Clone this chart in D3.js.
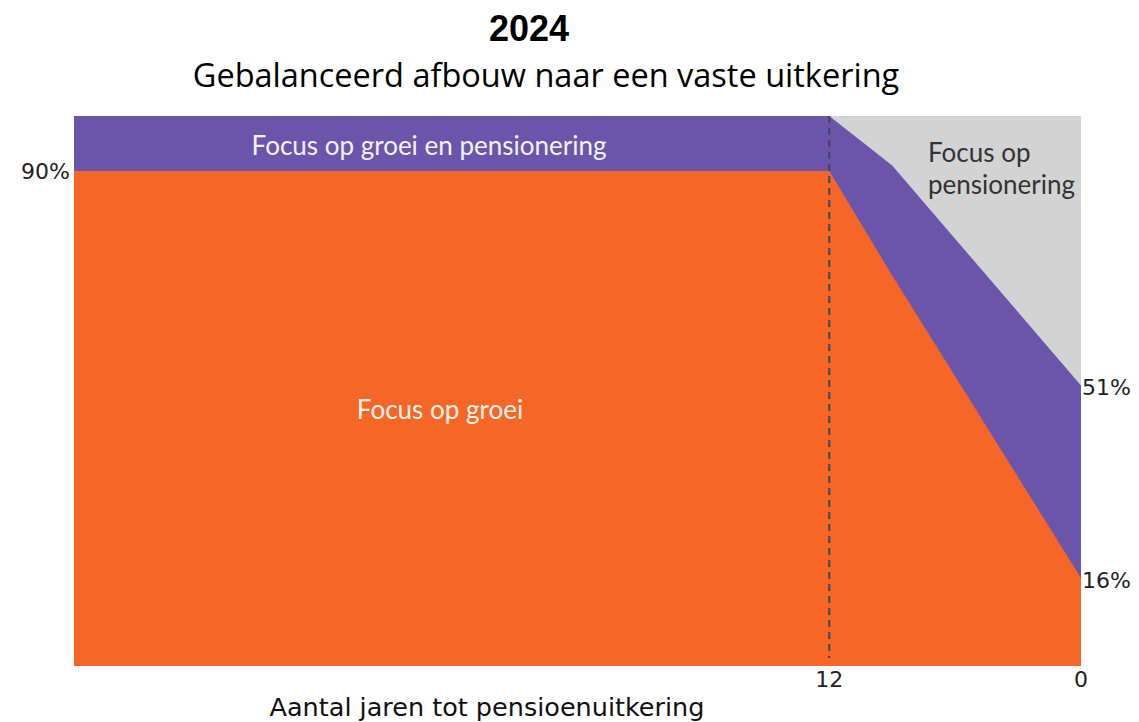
<!DOCTYPE html>
<html>
<head>
<meta charset="utf-8">
<script src="https://cdn.jsdelivr.net/npm/d3@7"></script>
<style>
    body { margin: 0; background: #fff; }
    svg { display: block; }
    .area-label { font-family: Lato, sans-serif; font-size: 26px; }
    .tick-label { font-family: "DejaVu Sans", sans-serif; font-size: 22px; fill: #222; }
</style>
</head>
<body>
<div id="chart"></div>
<script>

// data (years until retirement, share in %)
let years = [48, 12, 9, 0];
let growthShare = [90, 90, 71, 16];        // focus op groei
let mixedTop = [100, 100, 91, 51];         // focus op groei en pensionering (top edge)
let yTicks = [90];
let xTicks = [12, 0];
let rightLabels = [51, 16];

let width = 1139, height = 722;
let margin = {top: 116, right: 58, bottom: 56, left: 74};
let innerW = width - margin.left - margin.right;
let innerH = height - margin.top - margin.bottom;

let svg = d3.select('#chart').append('svg')
    .attr('width', width)
    .attr('height', height);

// titles
svg.append('text')
    .attr('x', 529).attr('y', 41)
    .attr('text-anchor', 'middle')
    .style('font-family', 'Liberation Sans, Arial, sans-serif')
    .style('font-weight', 'bold')
    .style('font-size', '36px')
    .text('2024');

svg.append('text')
    .attr('x', 546).attr('y', 87)
    .attr('text-anchor', 'middle')
    .style('font-family', 'Open Sans, sans-serif')
    .style('font-size', '32.5px')
    .text('Gebalanceerd afbouw naar een vaste uitkering');

let g = svg.append('g')
    .attr('transform', `translate(${margin.left}, ${margin.top})`);

let x = d3.scaleLinear().domain([48, 0]).range([0, innerW]);
let y = d3.scaleLinear().domain([0, 100]).range([innerH, 0]);

let rows = years.map((d, i) => ({year: d, growth: growthShare[i], top: mixedTop[i]}));

// background: focus op pensionering
g.append('rect')
    .attr('x', x(48)).attr('y', y(100))
    .attr('width', x(0) - x(48))
    .attr('height', y(0) - y(100))
    .attr('fill', '#d3d3d3');

// purple band
g.append('path')
    .datum(rows)
    .attr('fill', '#6a55ab')
    .attr('d', d3.area().x(d => x(d.year)).y0(y(0)).y1(d => y(d.top)));

// orange area
g.append('path')
    .datum(rows)
    .attr('fill', '#f66626')
    .attr('d', d3.area().x(d => x(d.year)).y0(y(0)).y1(d => y(d.growth)));

// dashed line at 12 years
g.append('line')
    .attr('x1', x(12)).attr('x2', x(12))
    .attr('y1', y(100)).attr('y2', y(0) - 8)
    .attr('stroke', '#404a5a')
    .attr('stroke-width', 2.2)
    .attr('stroke-dasharray', '7,5');

// axis-ish labels
g.selectAll('.ytick').data(yTicks).enter().append('text')
    .attr('class', 'tick-label')
    .attr('x', -4).attr('y', d => y(d))
    .attr('text-anchor', 'end')
    .attr('dy', '0.35em')
    .text(d => d + '%');

g.selectAll('.xtick').data(xTicks).enter().append('text')
    .attr('class', 'tick-label')
    .attr('x', d => x(d)).attr('y', y(0) + 21)
    .attr('text-anchor', 'middle')
    .text(d => d);

g.selectAll('.rtick').data(rightLabels).enter().append('text')
    .attr('class', 'tick-label')
    .attr('x', x(0) + 1).attr('y', d => y(d) + 2)
    .attr('dy', '0.35em')
    .text(d => d + '%');

svg.append('text')
    .attr('x', 487).attr('y', 716)
    .attr('text-anchor', 'middle')
    .style('font-family', 'DejaVu Sans, sans-serif')
    .style('font-size', '25.5px')
    .style('fill', '#111')
    .text('Aantal jaren tot pensioenuitkering');

// area labels
g.append('text')
    .attr('class', 'area-label')
    .attr('x', 429 - margin.left).attr('y', 155 - margin.top)
    .attr('text-anchor', 'middle')
    .attr('fill', '#f1f1f6')
    .text('Focus op groei en pensionering');

g.append('text')
    .attr('class', 'area-label')
    .attr('x', 440 - margin.left).attr('y', 419 - margin.top)
    .attr('text-anchor', 'middle')
    .attr('fill', '#fff3ea')
    .text('Focus op groei');

let pens = g.append('text')
    .attr('class', 'area-label')
    .attr('x', 928 - margin.left).attr('y', 162 - margin.top)
    .attr('fill', '#333');
pens.append('tspan').attr('x', 928 - margin.left).text('Focus op');
pens.append('tspan').attr('x', 928 - margin.left).attr('dy', 32).text('pensionering');

</script>
</body>
</html>
